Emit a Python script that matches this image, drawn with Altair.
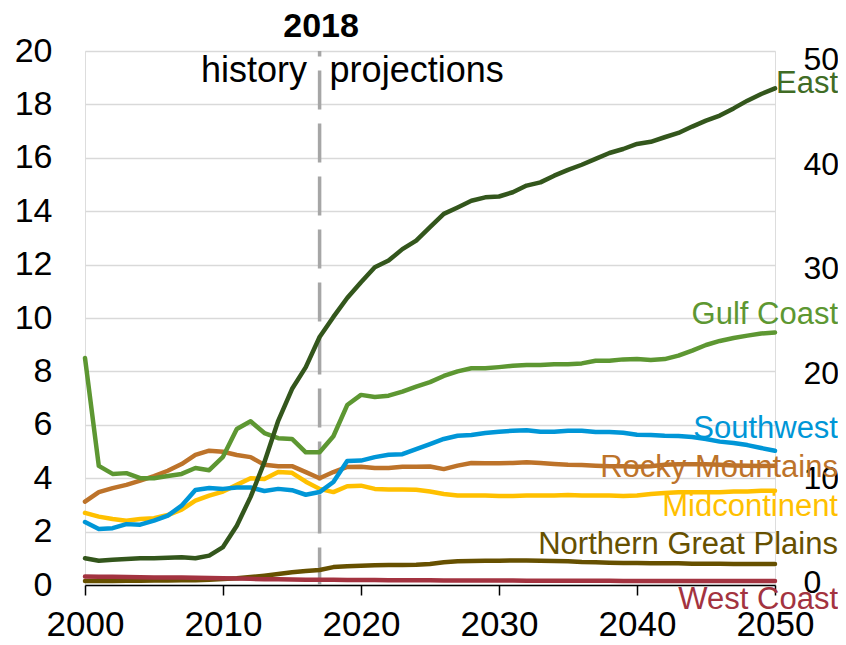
import altair as alt
import pandas as pd

years = list(range(2000, 2051))

east = [1.0, 0.91, 0.95, 0.97, 1.0, 1.0, 1.02, 1.04, 1.0, 1.1,
        1.42, 2.22, 3.3, 4.6, 6.15, 7.34, 8.16, 9.29, 10.04, 10.75,
        11.34, 11.9, 12.15, 12.58, 12.9, 13.4, 13.9, 14.14, 14.39, 14.52,
        14.55, 14.71, 14.96, 15.08, 15.33, 15.55, 15.74, 15.96, 16.18, 16.33,
        16.52, 16.6, 16.77, 16.93, 17.17, 17.39, 17.58, 17.85, 18.14, 18.39, 18.6]
gulf_coast = [8.5, 4.46, 4.16, 4.19, 4.0, 4.0, 4.08, 4.16, 4.38, 4.3,
              4.8, 5.84, 6.13, 5.69, 5.5, 5.47, 4.97, 4.97, 5.57, 6.74,
              7.12, 7.04, 7.09, 7.24, 7.43, 7.6, 7.83, 8.0, 8.12, 8.12,
              8.16, 8.21, 8.24, 8.24, 8.27, 8.27, 8.3, 8.4, 8.4, 8.45,
              8.46, 8.43, 8.46, 8.59, 8.78, 8.99, 9.14, 9.25, 9.34, 9.42, 9.46]
southwest = [2.36, 2.1, 2.13, 2.28, 2.26, 2.41, 2.6, 2.97, 3.56, 3.63,
             3.6, 3.65, 3.65, 3.52, 3.6, 3.55, 3.38, 3.48, 3.86, 4.64,
             4.66, 4.79, 4.88, 4.9, 5.09, 5.28, 5.47, 5.59, 5.62, 5.69,
             5.74, 5.78, 5.8, 5.74, 5.74, 5.78, 5.78, 5.73, 5.73, 5.7,
             5.63, 5.62, 5.59, 5.58, 5.54, 5.47, 5.37, 5.32, 5.24, 5.13, 5.03]
rocky_mountains = [3.12, 3.48, 3.63, 3.75, 3.91, 4.08, 4.28, 4.53, 4.87, 5.03,
                   4.99, 4.87, 4.79, 4.5, 4.45, 4.45, 4.23, 4.0, 4.23, 4.42,
                   4.43, 4.38, 4.38, 4.43, 4.43, 4.44, 4.34, 4.47, 4.57, 4.56,
                   4.56, 4.57, 4.6, 4.57, 4.53, 4.5, 4.49, 4.47, 4.45, 4.45,
                   4.43, 4.45, 4.5, 4.52, 4.52, 4.52, 4.5, 4.48, 4.47, 4.46, 4.47]
midcontinent = [2.7, 2.56, 2.47, 2.41, 2.47, 2.5, 2.62, 2.82, 3.16, 3.35,
                3.5, 3.75, 4.0, 3.97, 4.23, 4.2, 3.87, 3.6, 3.48, 3.7,
                3.72, 3.6, 3.58, 3.58, 3.57, 3.5, 3.41, 3.35, 3.35, 3.35,
                3.33, 3.33, 3.35, 3.35, 3.35, 3.37, 3.35, 3.35, 3.35, 3.33,
                3.35, 3.41, 3.45, 3.47, 3.47, 3.47, 3.47, 3.5, 3.5, 3.53, 3.53]
northern_great_plains = [0.15, 0.15, 0.15, 0.16, 0.16, 0.17, 0.17, 0.18, 0.18, 0.2,
                         0.22, 0.25, 0.3, 0.35, 0.41, 0.48, 0.52, 0.56, 0.67, 0.7,
                         0.72, 0.74, 0.75, 0.75, 0.76, 0.79, 0.85, 0.89, 0.9, 0.91,
                         0.91, 0.92, 0.92, 0.91, 0.9, 0.89, 0.86, 0.85, 0.83, 0.82,
                         0.82, 0.81, 0.81, 0.81, 0.8, 0.8, 0.8, 0.79, 0.79, 0.79, 0.79]
west_coast = [0.32, 0.31, 0.31, 0.3, 0.29, 0.28, 0.28, 0.28, 0.27, 0.26,
              0.25, 0.24, 0.23, 0.22, 0.22, 0.21, 0.2, 0.2, 0.2, 0.19,
              0.19, 0.19, 0.18, 0.18, 0.18, 0.18, 0.17, 0.17, 0.17, 0.17,
              0.17, 0.17, 0.16, 0.16, 0.16, 0.16, 0.16, 0.16, 0.16, 0.15,
              0.15, 0.15, 0.15, 0.15, 0.15, 0.15, 0.15, 0.15, 0.15, 0.15, 0.15]

# drawing order: first is bottom
regions = ["Northern Great Plains", "West Coast", "Midcontinent",
           "Rocky Mountains", "Southwest", "Gulf Coast", "East"]
region_values = [northern_great_plains, west_coast, midcontinent,
                 rocky_mountains, southwest, gulf_coast, east]
line_colors = ["#665000", "#a33340", "#ffc000", "#bd732a", "#0096d7", "#5d9732", "#33561c"]
label_colors = ["#665000", "#a33340", "#ffc000", "#bd732a", "#0096d7", "#5d9732", "#406c25"]
label_y = [1.49, -0.56, 2.94, 4.38, 5.84, 10.11, 18.76]

left_ticks = list(range(0, 21, 2))
right_ticks = [0, 10, 20, 30, 40, 50]
x_ticks = [2000, 2010, 2020, 2030, 2040, 2050]
divider_year = 2017
divider_texts = ["2018", "history", "projections"]

rows = []
for name, vals in zip(regions, region_values):
    for yr, v in zip(years, vals):
        rows.append({"year": yr, "value": v, "region": name})
df = pd.DataFrame(rows)

labels_df = pd.DataFrame({"region": regions, "year": [2050] * len(regions),
                          "ly": label_y, "lcolor": label_colors})
one_row = pd.DataFrame({"k": [0]})

FONT = "Liberation Sans"
W, H = 690, 534

x_scale = alt.Scale(domain=[2000, 2050], nice=False, zero=False)
y_scale = alt.Scale(domain=[0, 20], nice=False, zero=False)
color_scale = alt.Scale(domain=regions, range=line_colors)

x_axis = alt.Axis(values=x_ticks, format="d", title=None, grid=False,
                  domainColor="#000000", domainWidth=1.5,
                  tickColor="#000000", tickWidth=1.5, tickSize=10,
                  labelFontSize=35, labelColor="#000000", labelFont=FONT,
                  labelBaseline="alphabetic", labelPadding=40, labelFlush=False)
y_axis = alt.Axis(values=left_ticks, title=None, domain=False, ticks=False,
                  labelFontSize=34, labelColor="#000000", labelFont=FONT,
                  labelPadding=33, gridColor="#d9d9d9", gridWidth=1.5)

X = alt.X("year:Q", scale=x_scale, axis=x_axis)

divider = alt.Chart(one_row).mark_rule(color="#a6a6a6", strokeWidth=3.5,
                                       strokeDash=[39, 14], strokeDashOffset=33.4).encode(
    x=alt.X(datum=divider_year, scale=x_scale, axis=x_axis),
    y=alt.value(0), y2=alt.value(H)
)

line_layers = []
for name in regions:
    line_layers.append(
        alt.Chart(df).transform_filter(alt.datum.region == name)
        .mark_line(strokeWidth=4.5, strokeCap="round", strokeJoin="round")
        .encode(
            x=X,
            y=alt.Y("value:Q", scale=y_scale, axis=y_axis),
            color=alt.Color("region:N", scale=color_scale, legend=None),
        )
    )

line_labels = alt.Chart(labels_df).mark_text(
    align="right", baseline="middle", dx=63, fontSize=31, font=FONT
).encode(
    x=X,
    y=alt.Y("ly:Q", scale=y_scale, axis=y_axis),
    text="region:N",
    color=alt.Color("lcolor:N", scale=None),
)

year_label = alt.Chart(one_row).mark_text(
    text=divider_texts[0], align="center", baseline="alphabetic", dx=1.5,
    fontSize=34, fontWeight="bold", font=FONT, color="#000000"
).encode(x=alt.X(datum=divider_year, scale=x_scale, axis=x_axis),
         y=alt.Y(datum=20.52, scale=y_scale, axis=y_axis))

history_label = alt.Chart(one_row).mark_text(
    text=divider_texts[1], align="right", baseline="alphabetic", dx=-12.5,
    fontSize=36, font=FONT, color="#000000"
).encode(x=alt.X(datum=divider_year, scale=x_scale, axis=x_axis),
         y=alt.Y(datum=18.84, scale=y_scale, axis=y_axis))

proj_label = alt.Chart(one_row).mark_text(
    text=divider_texts[2], align="left", baseline="alphabetic", dx=10,
    fontSize=36, font=FONT, color="#000000"
).encode(x=alt.X(datum=divider_year, scale=x_scale, axis=x_axis),
         y=alt.Y(datum=18.84, scale=y_scale, axis=y_axis))

left_part = alt.layer(divider, *line_layers, line_labels,
                      year_label, history_label, proj_label)

right_df = pd.DataFrame({"year": [2000] * len(right_ticks), "r": right_ticks})
right_axis_layer = alt.Chart(right_df).mark_point(opacity=0).encode(
    x=X,
    y=alt.Y("r:Q", scale=alt.Scale(domain=[-0.2, 50.8], nice=False, zero=False),
            axis=alt.Axis(orient="right", values=right_ticks, title=None,
                          grid=False, domain=False, ticks=False,
                          labelFontSize=32, labelColor="#000000", labelFont=FONT,
                          labelPadding=28, labelAlign="left")),
)

chart = alt.layer(left_part, right_axis_layer).resolve_scale(
    y="independent"
).properties(
    width=W, height=H,
    padding={"left": 77, "top": 43, "right": 63, "bottom": 52},
    autosize=alt.AutoSizeParams(type="none"),
).configure_view(stroke=None).configure(font=FONT)

chart.save("out.html", embed_options={"renderer": "svg", "actions": False})
